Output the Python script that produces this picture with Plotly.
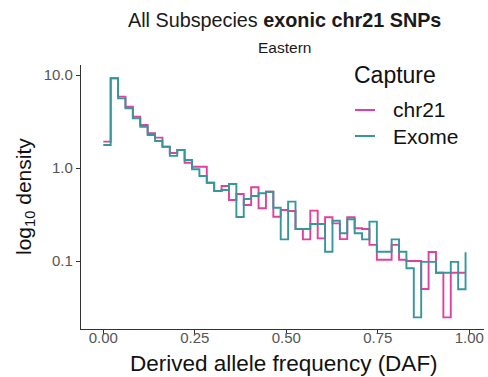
import plotly.graph_objects as go

# Bin centers (derived allele frequency)
daf_bins = [0.0, 0.0202, 0.0404, 0.0606, 0.0808, 0.101, 0.1212, 0.1414, 0.1616, 0.1818,
            0.202, 0.2222, 0.2424, 0.2626, 0.2828, 0.303, 0.3232, 0.3434, 0.3636, 0.3838,
            0.404, 0.4242, 0.4444, 0.4646, 0.4848, 0.505, 0.5252, 0.5454, 0.5656, 0.5858,
            0.606, 0.6262, 0.6464, 0.6666, 0.6868, 0.707, 0.7272, 0.7474, 0.7676, 0.7878,
            0.808, 0.8282, 0.8484, 0.8686, 0.8888, 0.909, 0.9292, 0.9494, 0.9696, 0.9898]

chr21_density = [1.92, 9.22, 5.85, 4.56, 3.56, 2.90, 2.36, 2.12, 1.69, 1.45,
                 1.56, 1.14, 1.03, 1.03, 0.695, 0.566, 0.640, 0.453, 0.525, 0.400,
                 0.620, 0.369, 0.556, 0.299, 0.353, 0.345, 0.221, 0.171, 0.348, 0.175,
                 0.295, 0.254, 0.172, 0.295, 0.225, 0.221, 0.149, 0.103, 0.103, 0.149,
                 0.103, 0.100, 0.100, 0.050, 0.125, 0.0748, 0.0248, 0.0748, 0.0748, 0.0748]

exome_density = [1.77, 9.22, 5.61, 4.39, 3.42, 2.78, 2.26, 1.95, 1.69, 1.35,
                 1.56, 1.22, 0.968, 0.820, 0.695, 0.566, 0.580, 0.673, 0.297, 0.465,
                 0.500, 0.535, 0.556, 0.374, 0.171, 0.435, 0.221, 0.221, 0.250, 0.250,
                 0.126, 0.271, 0.199, 0.281, 0.199, 0.171, 0.265, 0.126, 0.126, 0.171,
                 0.126, 0.0836, 0.0248, 0.098, 0.098, 0.0748, 0.0748, 0.098, 0.0497, 0.124]

series_names = ["chr21", "Exome"]
series_colors = ["#E0409F", "#36979A"]

x_ticks = [0.0, 0.25, 0.5, 0.75, 1.0]
x_tick_labels = ["0.00", "0.25", "0.50", "0.75", "1.00"]
y_ticks = [0.1, 1, 10]
y_tick_labels = ["0.1", "1.0", "10.0"]

FONT = "Liberation Sans, Arial, Helvetica, sans-serif"

fig = go.Figure()
for name, vals, col in zip(series_names, [chr21_density, exome_density], series_colors):
    fig.add_trace(go.Scatter(x=daf_bins, y=vals, mode="lines", line_shape="hv",
                             line=dict(color=col, width=1.9), name=name, showlegend=False))

W, H = 488, 377
L, R, T, B = 81, 4, 65, 48
pw, ph = W - L - R, H - T - B

def px_x(p):
    return (p - L) / pw

def px_y(p):
    return (H - B - p) / ph

annotations = [
    dict(text="All Subspecies <b>exonic chr21 SNPs</b>", x=px_x(284), y=px_y(20),
         font=dict(size=19.8, color="#1a1a1a", family=FONT)),
    dict(text="Eastern", x=px_x(284), y=px_y(48),
         font=dict(size=15.5, color="#1a1a1a", family=FONT)),
    dict(text="Derived allele frequency (DAF)", x=px_x(284), y=px_y(363),
         font=dict(size=22.5, color="#111111", family=FONT)),
    dict(text="log<sub>10</sub> density", x=px_x(25), y=0.5, textangle=-90,
         font=dict(size=21, color="#111111", family=FONT)),
    dict(text="Capture", x=px_x(352), y=px_y(75), xanchor="left",
         font=dict(size=23, color="#111111", family=FONT)),
]
shapes = []
for i, (name, col) in enumerate(zip(series_names, series_colors)):
    yy = [110, 136][i]
    annotations.append(dict(text=name, x=px_x(391), y=px_y(yy), xanchor="left",
                            font=dict(size=21, color="#111111", family=FONT)))
    shapes.append(dict(type="line", xref="paper", yref="paper",
                       x0=px_x(355), x1=px_x(375), y0=px_y(yy), y1=px_y(yy),
                       line=dict(color=col, width=2)))
for a in annotations:
    a.update(xref="paper", yref="paper", showarrow=False, yanchor="middle",
             xanchor=a.get("xanchor", "center"))

fig.update_layout(
    width=W, height=H,
    margin=dict(l=L, r=R, t=T, b=B, autoexpand=False),
    paper_bgcolor="white", plot_bgcolor="white",
    annotations=annotations, shapes=shapes,
    font=dict(family=FONT),
    xaxis=dict(range=[-0.0609, 1.0402], tickvals=x_ticks, ticktext=x_tick_labels,
               showgrid=False, zeroline=False, showline=True, linecolor="#333333", linewidth=1.3,
               ticks="outside", ticklen=4, tickcolor="#333333", tickwidth=1.2,
               ticklabelstandoff=-9,
               tickfont=dict(size=15, color="#555555", family=FONT)),
    yaxis=dict(type="log", range=[-1.731, 1.1075], tickvals=y_ticks, ticktext=y_tick_labels,
               showgrid=False, zeroline=False, showline=True, linecolor="#333333", linewidth=1.3,
               ticks="outside", ticklen=4, tickcolor="#333333", tickwidth=1.2,
               tickfont=dict(size=15, color="#555555", family=FONT)),
)

fig.write_html("out.html")
